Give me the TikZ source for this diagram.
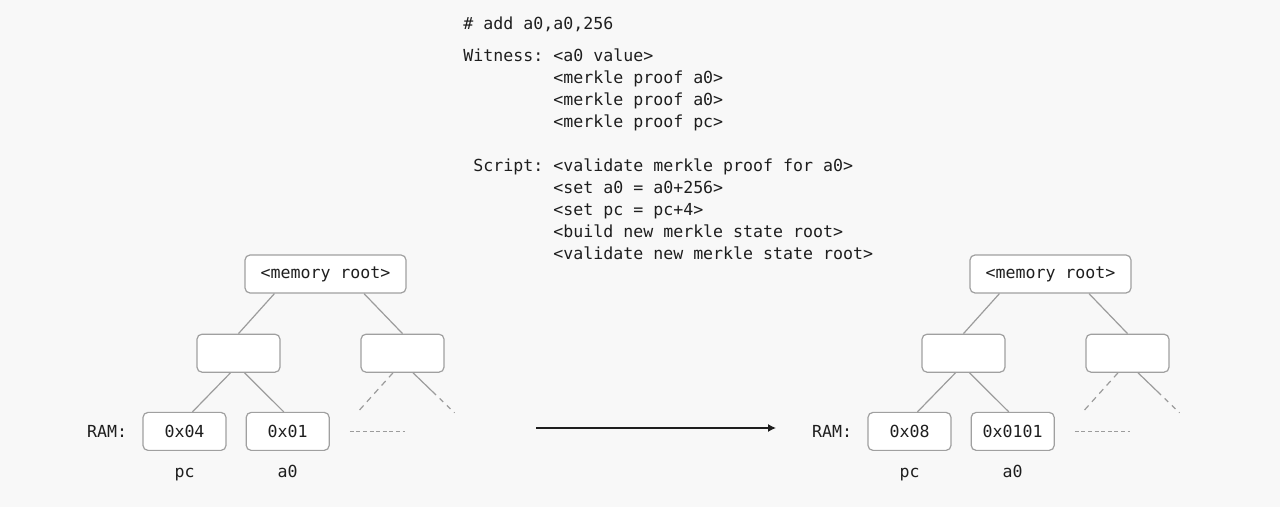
\documentclass[tikz,border=0pt]{standalone}
\usepackage{fontspec}
\setmonofont{DejaVu Sans Mono}
\usepackage{tikz}
\usetikzlibrary{positioning, arrows.meta}
\usepackage{xcolor}
\definecolor{bggray}{HTML}{F8F8F8}
\definecolor{boxline}{HTML}{A0A0A0}
\definecolor{edgegray}{HTML}{9C9C9C}
\definecolor{ink}{HTML}{1E1E1E}
\tikzset{
  membox/.style={rectangle, draw=boxline, fill=white, rounded corners=2.5pt,
    line width=0.6pt, minimum width=41.5pt, minimum height=19pt, inner sep=0pt,
    font=\ttfamily\fontsize{8.3}{11}\selectfont, text=ink},
  codetext/.style={inner sep=0pt, font=\ttfamily\fontsize{8.3}{11}\selectfont, text=ink},
  treeedge/.style={draw=edgegray, line width=0.6pt},
}

\begin{document}
\begin{tikzpicture}[x=0.5pt, y=-0.5pt]
\useasboundingbox[fill=bggray] (0,0) rectangle (1280,507);

\node[codetext, anchor=west] (asm) at (463,24) {\# add a0,a0,256};
\node[codetext, anchor=north west] (proof) at (463,45.5) {%
\begin{tabular}{@{}r@{ }l@{}}
Witness: & <a0 value>\\
 & <merkle proof a0>\\
 & <merkle proof a0>\\
 & <merkle proof pc>\\
 & \\
Script: & <validate merkle proof for a0>\\
 & <set a0 = a0+256>\\
 & <set pc = pc+4>\\
 & <build new merkle state root>\\
 & <validate new merkle state root>
\end{tabular}};

% memory tree before (L) and after (R) the step
\foreach \s/\dx/\vA/\vB in {L/0/0x04/0x01, R/725/0x08/0x0101} {
  \node[membox, minimum width=80.5pt] (root\s) at (325.5+\dx,274) {<memory root>};
  \node[membox, below=20pt of root\s, xshift=-43.5pt] (mid\s) {};
  \node[membox, below=20pt of root\s, xshift=38.5pt] (side\s) {};
  \node[membox, below=19.5pt of mid\s, xshift=-27pt] (pc\s) {\vA};
  \node[membox, right=9.5pt of pc\s] (a\s) {\vB};
  \node[codetext, left=7.5pt of pc\s] (ram\s) {RAM:};
  \node[codetext, anchor=base] (pcname\s) at ([yshift=-23pt]pc\s.center) {pc};
  \node[codetext, anchor=base] (aname\s) at ([yshift=-23pt]a\s.center) {a0};

  \coordinate (stubL\s) at ([xshift=-22.75pt, yshift=-20pt]side\s.south);
  \coordinate (stubR\s) at ([xshift=26pt, yshift=-20pt]side\s.south);
  \coordinate (dotA\s) at ([xshift=10pt]a\s.east);
  \coordinate (dotB\s) at ([xshift=37.5pt]a\s.east);

  \draw[treeedge] (root\s.201) -- (mid\s.north);
  \draw[treeedge] (root\s.333) -- (side\s.north);
  \draw[treeedge] ([xshift=-4pt]mid\s.south) -- ([xshift=4pt]pc\s.north);
  \draw[treeedge] ([xshift=3pt]mid\s.south) -- ([xshift=-2pt]a\s.north);
  \draw[treeedge, dash pattern=on 3pt off 2.5pt] ([xshift=-4.75pt]side\s.south) -- (stubL\s);
  \draw[treeedge, dash pattern=on 16pt off 2.5pt on 2.5pt off 2.5pt on 2.5pt off 2.5pt on 10pt]
    ([xshift=5.25pt]side\s.south) -- (stubR\s);
  \draw[treeedge, dash pattern=on 2pt off 1.3pt] (dotA\s) -- (dotB\s);
}

\coordinate (stepfrom) at (536,428);
\coordinate (stepto) at (776,428);
\draw[ink, line width=0.65pt, -{Latex[length=4pt, width=4pt]}] (stepfrom) -- (stepto);
\end{tikzpicture}
\end{document}
